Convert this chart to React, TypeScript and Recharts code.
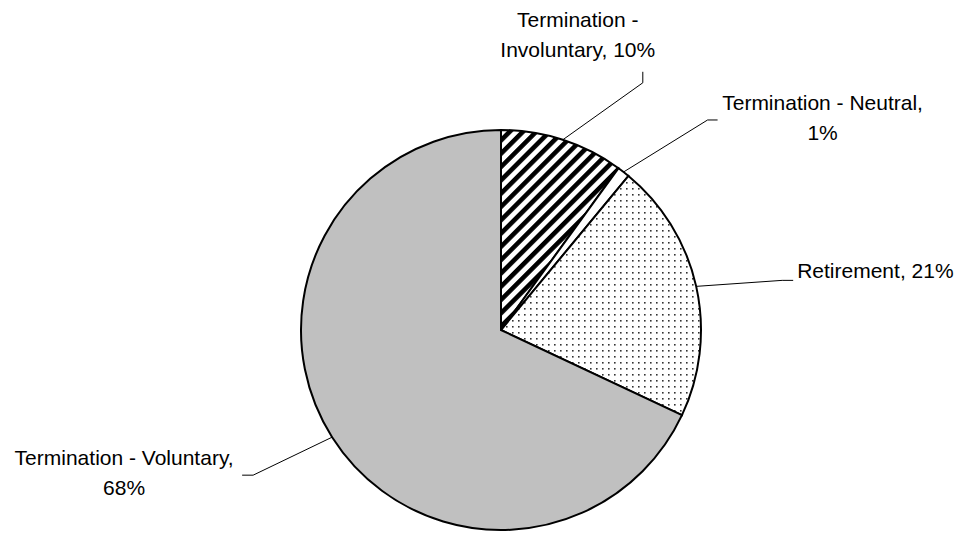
import { PieChart, Pie, Cell } from "recharts";

// slices, clockwise from 12 o'clock
const CATEGORIES = [
  "Termination - Involuntary",
  "Termination - Neutral",
  "Retirement",
  "Termination - Voluntary",
];
const SHARES = [10, 1, 21, 68];
// how many words of "name, value%" go on the first label line
const FIRST_LINE_WORDS = [2, 3, 3, 3];

const FILLS = ["url(#hatch)", "#ffffff", "url(#dots)", "#c0c0c0"];

// leader geometry relative to the slice's edge point (Excel-style placement)
const LEADERS = [
  { elbow: [80, -57], end: [0, -11], text: [-65, -45], anchor: "middle" },
  { elbow: [84, -52], end: [10, 0], text: [105, -10], anchor: "middle" },
  { elbow: [86, -6], end: [11, 0], text: [4, -2], anchor: "start" },
  { elbow: [-79, 38], end: [-11, 0], text: [-118, -10], anchor: "middle" },
];

const data = CATEGORIES.map((name, i) => ({ name, value: SHARES[i] }));
const RADIAN = Math.PI / 180;

function splitLabel(i: number) {
  const words = `${CATEGORIES[i]}, ${SHARES[i]}%`.split(" ");
  const n = FIRST_LINE_WORDS[i];
  const lines = [words.slice(0, n).join(" ")];
  if (words.length > n) lines.push(words.slice(n).join(" "));
  return lines;
}

function renderLabel(props: any) {
  const { cx, cy, midAngle, outerRadius, index } = props;
  const L = LEADERS[index];
  const x0 = cx + outerRadius * Math.cos(-midAngle * RADIAN);
  const y0 = cy + outerRadius * Math.sin(-midAngle * RADIAN);
  const x1 = x0 + L.elbow[0];
  const y1 = y0 + L.elbow[1];
  const x2 = x1 + L.end[0];
  const y2 = y1 + L.end[1];
  const tx = x2 + L.text[0];
  const ty = y2 + L.text[1];
  const lines = splitLabel(index);
  return (
    <g key={`lbl-${index}`}>
      <polyline
        points={`${x0},${y0} ${x1},${y1} ${x2},${y2}`}
        fill="none"
        stroke="#000"
        strokeWidth={1}
      />
      <text
        x={tx}
        y={ty}
        textAnchor={L.anchor as any}
        fill="#000"
        fontSize={21}
        fontFamily="'Liberation Sans', Arial, sans-serif"
      >
        {lines.map((ln, k) => (
          <tspan key={k} x={tx} y={ty + k * 30}>
            {ln}
          </tspan>
        ))}
      </text>
    </g>
  );
}

export default function App() {
  return (
    <div style={{ width: 958, height: 533, background: "#fff" }}>
      <style>{`body{margin:0}`}</style>
      <PieChart
        width={958}
        height={533}
        margin={{ top: 0, right: 0, bottom: 0, left: 0 }}
      >
        <defs>
          <pattern
            id="hatch"
            width="9.4"
            height="9.4"
            patternUnits="userSpaceOnUse"
            patternTransform="rotate(45)"
          >
            <rect width="9.4" height="9.4" fill="#fff" />
            <rect width="4.6" height="9.4" fill="#000" />
          </pattern>
          <pattern id="dots" width="6" height="6" patternUnits="userSpaceOnUse">
            <rect width="6" height="6" fill="#fff" />
            <rect x="2" y="2" width="1.6" height="1.6" fill="#333" />
          </pattern>
        </defs>
        <Pie
          data={data}
          dataKey="value"
          nameKey="name"
          cx={501}
          cy={330}
          outerRadius={200}
          startAngle={90}
          endAngle={-270}
          stroke="#000"
          strokeWidth={2}
          label={renderLabel}
          labelLine={false}
          isAnimationActive={false}
        >
          {data.map((_, i) => (
            <Cell key={i} fill={FILLS[i]} />
          ))}
        </Pie>
      </PieChart>
    </div>
  );
}
